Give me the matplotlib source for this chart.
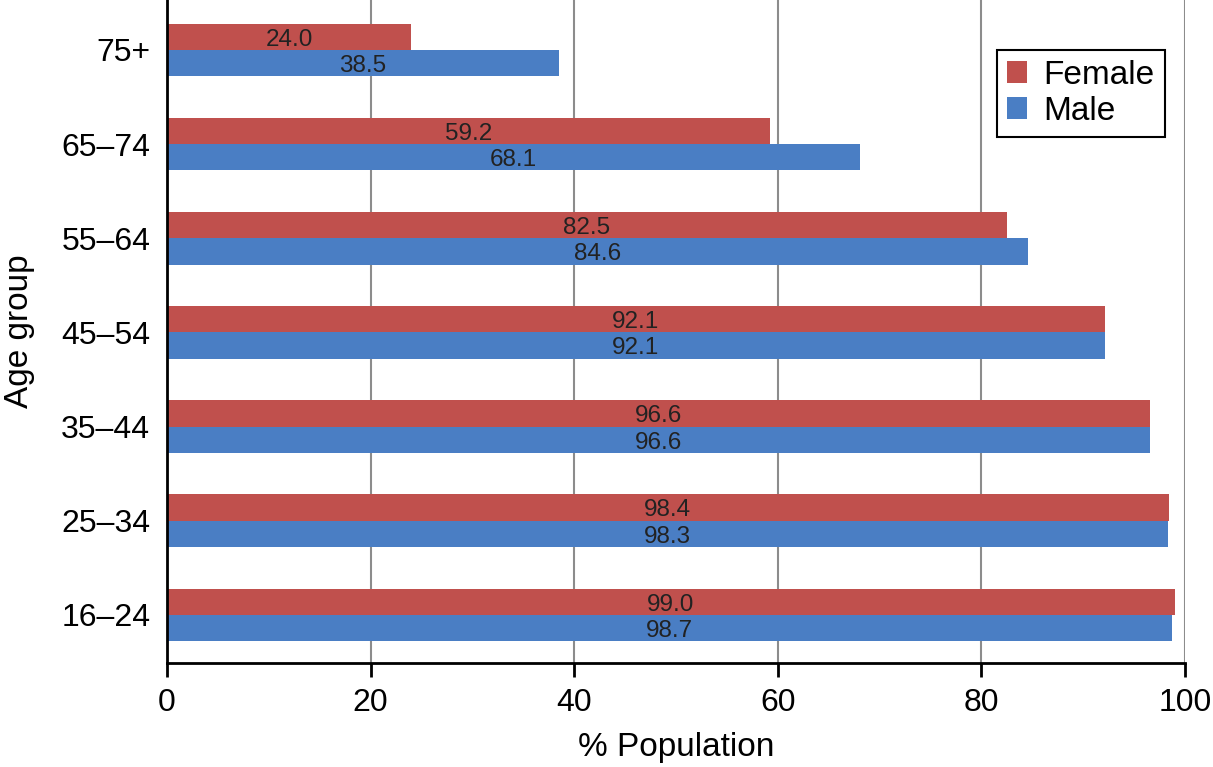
import numpy as np
import matplotlib
matplotlib.use("Agg")
import matplotlib.pyplot as plt

plt.rcParams['font.family'] = ['Liberation Sans', 'DejaVu Sans']

age_groups = ["16\u201324", "25\u201334", "35\u201344", "45\u201354", "55\u201364", "65\u201374", "75+"]
female = [99.0, 98.4, 96.6, 92.1, 82.5, 59.2, 24.0]
male = [98.7, 98.3, 96.6, 92.1, 84.6, 68.1, 38.5]

RED = "#C0504D"
BLUE = "#4A7EC4"

fig = plt.figure(figsize=(12.13, 7.67), dpi=100)
ax = fig.add_axes([0.1377, 0.1356, 0.8392, 0.8644])

y = np.arange(len(age_groups))
h = 0.28
ax.barh(y + h / 2, female, height=h, color=RED, label="Female", zorder=3)
ax.barh(y - h / 2, male, height=h, color=BLUE, label="Male", zorder=3)

for yy, v in zip(y, female):
    ax.text(v / 2, yy + h / 2 - 0.03, f"{v:.1f}", ha="center", va="center",
            fontsize=17.5, color="#222222", zorder=4)
for yy, v in zip(y, male):
    ax.text(v / 2, yy - h / 2 - 0.03, f"{v:.1f}", ha="center", va="center",
            fontsize=17.5, color="#222222", zorder=4)

ax.set_xlim(0, 100)
ax.set_ylim(-0.51, 6.53)
ax.set_xticks([0, 20, 40, 60, 80, 100])
ax.set_yticks(y)
ax.set_yticklabels(age_groups)
ax.tick_params(axis="x", labelsize=23, length=10, width=2, direction="out", pad=8)
ax.tick_params(axis="y", labelsize=23, length=0, pad=12)
ax.grid(axis="x", color="#8c8c8c", lw=1.5, zorder=0)
for s in ["top", "right"]:
    ax.spines[s].set_visible(False)
for s in ["left", "bottom"]:
    ax.spines[s].set_linewidth(2)
    ax.spines[s].set_zorder(5)

ax.set_xlabel("% Population", fontsize=24, labelpad=10)
ax.set_ylabel("Age group", fontsize=24, va="center")
ax.yaxis.set_label_coords(-0.145, 0.5)

leg = ax.legend(loc="upper right", bbox_to_anchor=(0.980, 0.925), borderaxespad=0,
                fontsize=24, fancybox=False, edgecolor="black", framealpha=1,
                handlelength=0.6, handleheight=0.6, handletextpad=0.5,
                borderpad=0.3, labelspacing=0.15)
leg.get_frame().set_linewidth(1.5)

fig.savefig("out.png", dpi=100)
